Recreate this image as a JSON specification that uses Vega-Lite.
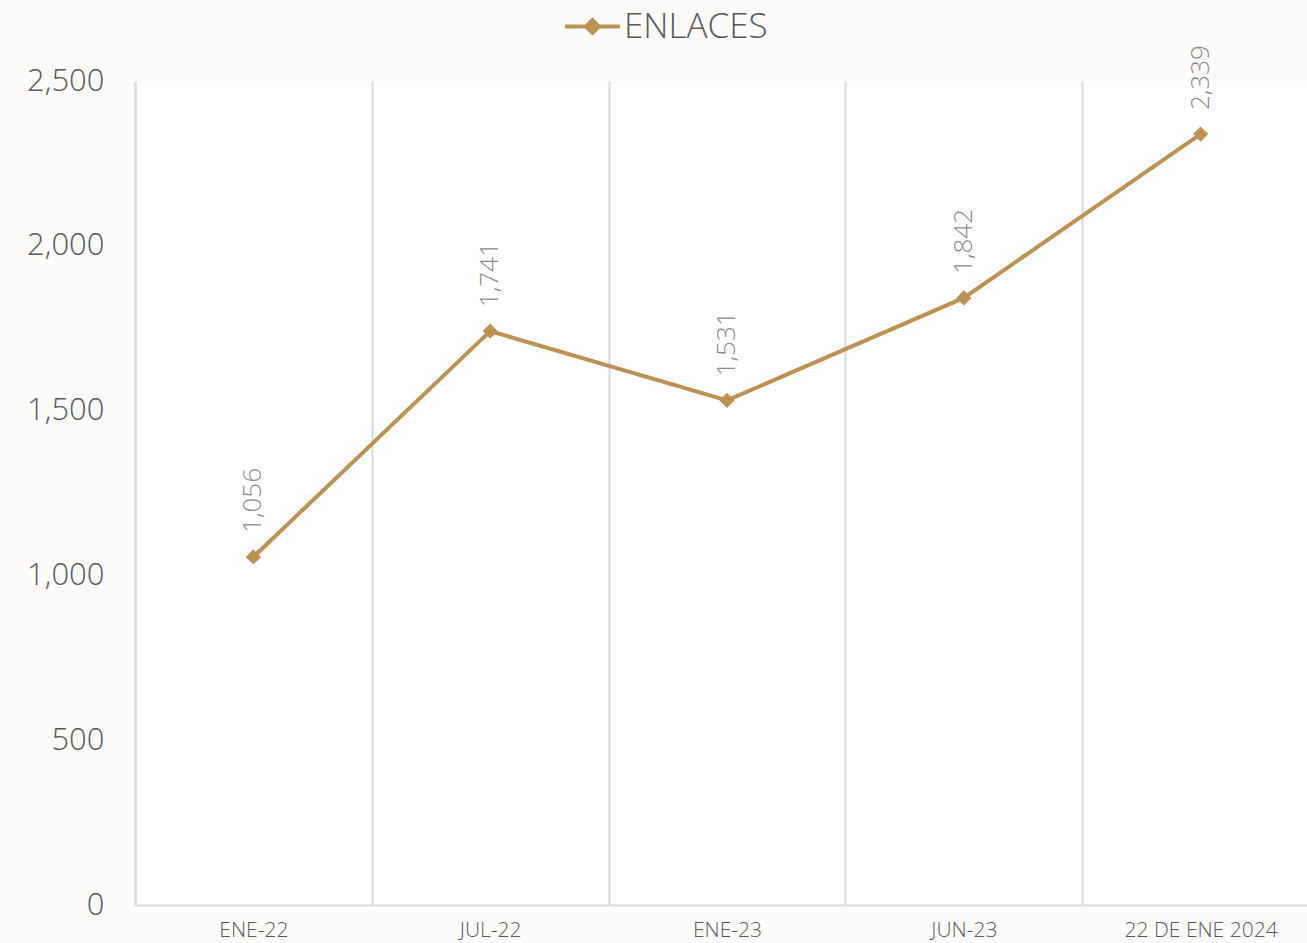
{
  "$schema": "https://vega.github.io/schema/vega-lite/v6.json",
  "autosize": {"type": "none"},
  "width": 1172,
  "height": 824,
  "padding": {"left": 135, "top": 81, "right": 0, "bottom": 38},
  "background": "#fdfcfb",
  "config": {
    "view": {"fill": "white", "stroke": null},
    "font": "Open Sans"
  },
  "data": {
    "values": [
      {"fecha": "ENE-22", "enlaces": 1056, "label": "1,056"},
      {"fecha": "JUL-22", "enlaces": 1741, "label": "1,741"},
      {"fecha": "ENE-23", "enlaces": 1531, "label": "1,531"},
      {"fecha": "JUN-23", "enlaces": 1842, "label": "1,842"},
      {"fecha": "22 DE ENE 2024", "enlaces": 2339, "label": "2,339"}
    ]
  },
  "encoding": {
    "x": {
      "field": "fecha",
      "type": "nominal",
      "sort": null,
      "scale": {"type": "band", "paddingInner": 0, "paddingOuter": 0, "range": [0, 1184]},
      "axis": {
        "title": null,
        "labelAngle": 0,
        "tickBand": "extent",
        "grid": true,
        "gridColor": "#d9d9d9",
        "gridWidth": 2,
        "domainColor": "#d9d9d9",
        "domainWidth": 2,
        "ticks": false,
        "labelFont": "Open Sans",
        "labelFontSize": 21,
        "labelFontWeight": 300,
        "labelColor": "#595959",
        "labelPadding": 14
      }
    },
    "y": {
      "field": "enlaces",
      "type": "quantitative",
      "scale": {"domain": [0, 2500], "nice": false},
      "axis": {
        "title": null,
        "values": [0, 500, 1000, 1500, 2000, 2500],
        "format": ",d",
        "grid": false,
        "ticks": false,
        "domainColor": "#d9d9d9",
        "domainWidth": 2,
        "labelFont": "Open Sans",
        "labelFontSize": 31,
        "labelFontWeight": 300,
        "labelColor": "#595959",
        "labelPadding": 31
      }
    }
  },
  "layer": [
    {
      "mark": {"type": "line", "strokeWidth": 4, "color": "#BD9152"},
      "encoding": {
        "color": {
          "datum": "ENLACES",
          "type": "nominal",
          "scale": {"range": ["#BD9152"]},
          "legend": {
            "title": null,
            "orient": "none",
            "legendX": 428,
            "legendY": -84,
            "symbolType": "M-1,0L1,0M-0.23,0L0,-0.23L0.23,0L0,0.23Z",
            "symbolSize": 3025,
            "symbolStrokeWidth": 4,
            "symbolFillColor": "#BD9152",
            "symbolStrokeColor": "#BD9152",
            "labelFont": "Open Sans",
            "labelFontSize": 35,
            "labelFontWeight": 300,
            "labelColor": "#595959",
            "labelOffset": 2,
            "padding": 0
          }
        }
      }
    },
    {
      "mark": {"type": "point", "shape": "diamond", "filled": true, "size": 230, "color": "#BD9152", "opacity": 1}
    },
    {
      "mark": {"type": "text", "angle": 270, "align": "left", "baseline": "middle", "dx": 24, "fontSize": 26, "fontWeight": 300, "color": "#8c8c8c", "font": "Open Sans"},
      "encoding": {"text": {"field": "label"}}
    }
  ]
}
